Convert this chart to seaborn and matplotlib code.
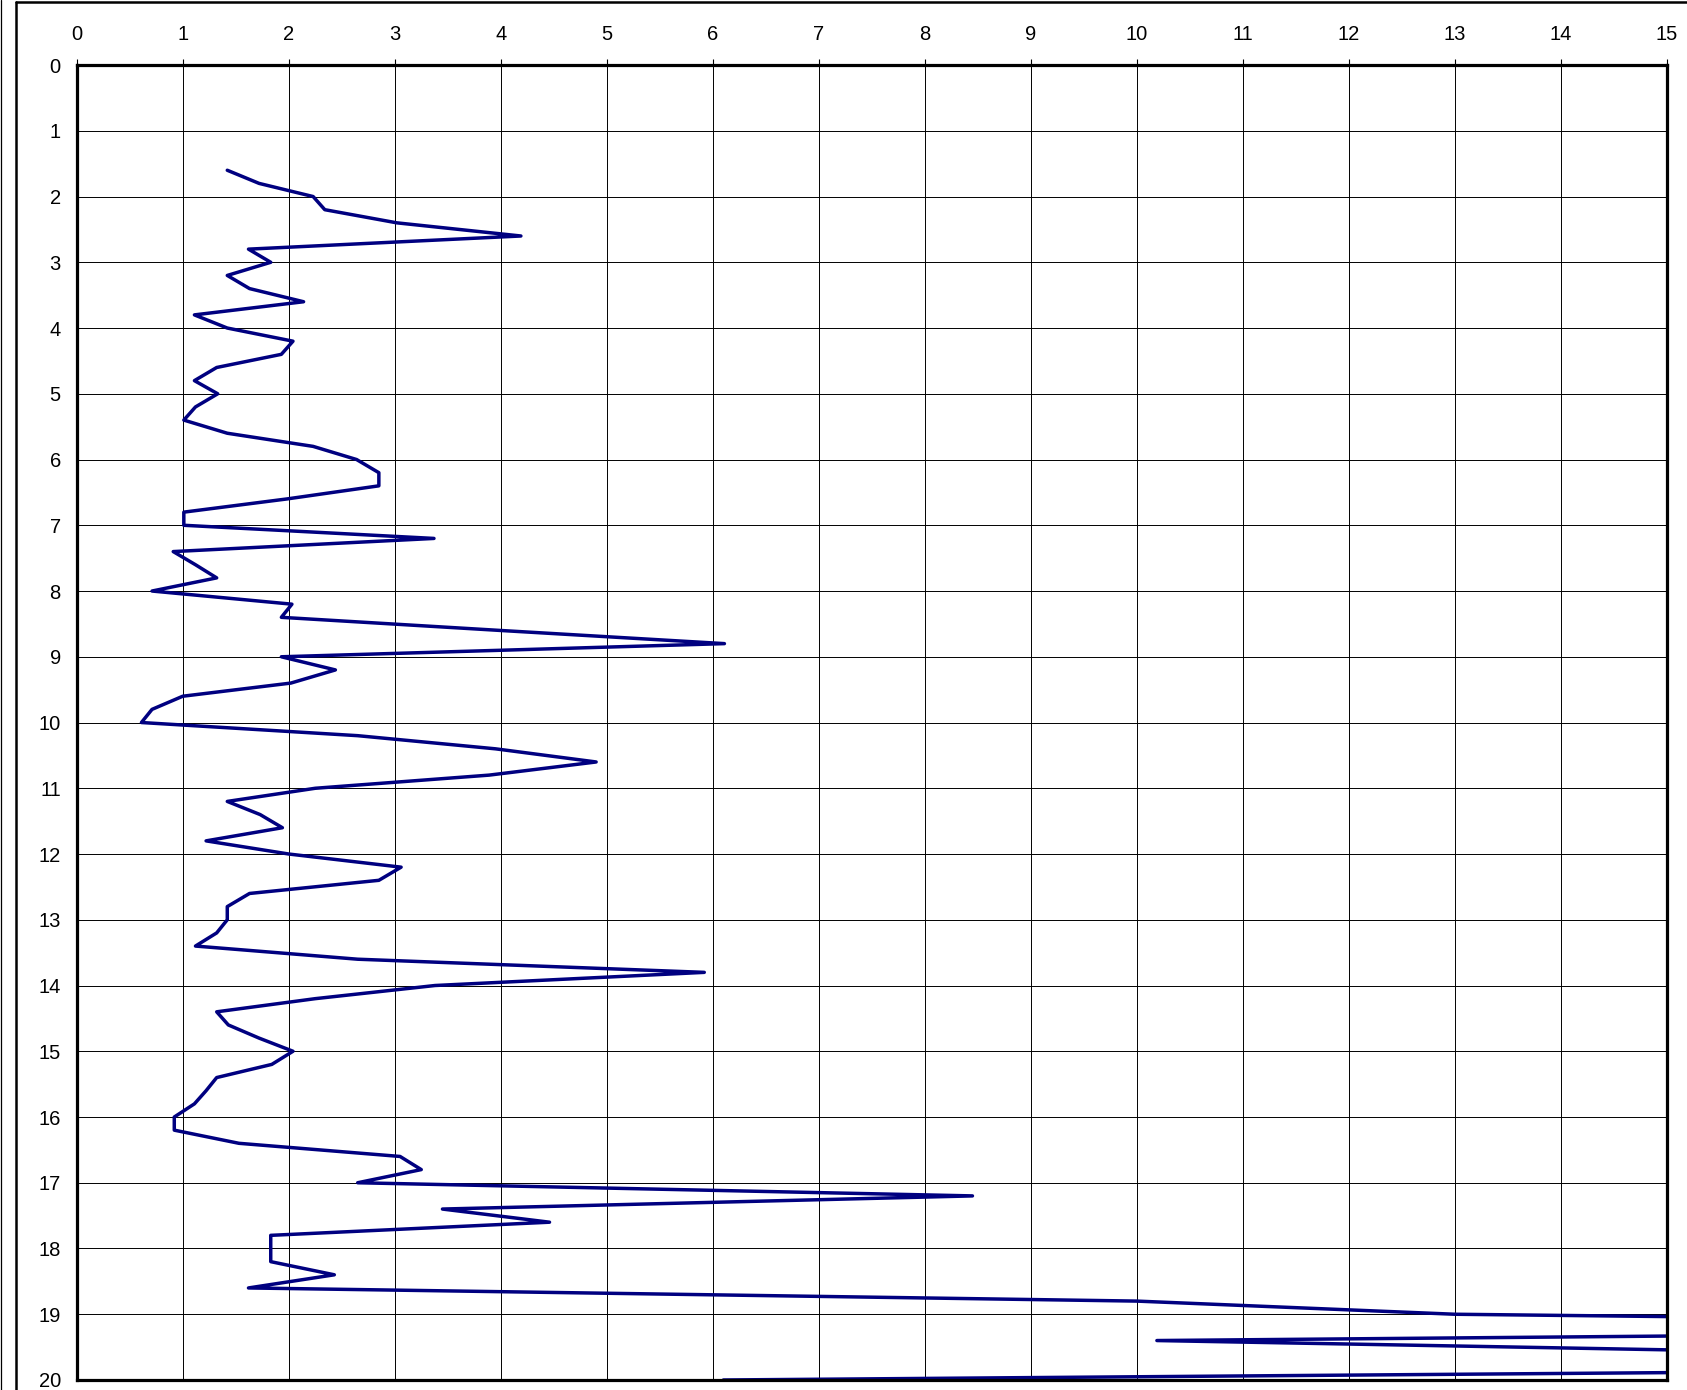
import matplotlib
matplotlib.use('Agg')
import matplotlib.pyplot as plt
from matplotlib.lines import Line2D
import seaborn as sns
import pandas as pd

depth = [1.6, 1.8, 2.0, 2.2, 2.4, 2.6, 2.8, 3.0, 3.2, 3.4, 3.6, 3.8,
         4.0, 4.2, 4.4, 4.6, 4.8, 5.0, 5.2, 5.4, 5.6, 5.8, 6.0, 6.2,
         6.4, 6.6, 6.8, 7.0, 7.2, 7.4, 7.6, 7.8, 8.0, 8.2, 8.4, 8.6,
         8.8, 9.0, 9.2, 9.4, 9.6, 9.8, 10.0, 10.2, 10.4, 10.6, 10.8, 11.0,
         11.2, 11.4, 11.6, 11.8, 12.0, 12.2, 12.4, 12.6, 12.8, 13.0, 13.2, 13.4,
         13.6, 13.8, 14.0, 14.2, 14.4, 14.6, 14.8, 15.0, 15.2, 15.4, 15.6, 15.8,
         16.0, 16.2, 16.4, 16.6, 16.8, 17.0, 17.2, 17.4, 17.6, 17.8, 18.0, 18.2,
         18.4, 18.6, 18.8, 19.0, 19.2, 19.4, 19.6, 19.8, 20.0]
value = [1.42, 1.72, 2.23, 2.34, 3.02, 4.19, 1.62, 1.83, 1.42, 1.63, 2.14, 1.11,
         1.42, 2.04, 1.93, 1.32, 1.11, 1.33, 1.12, 1.01, 1.42, 2.23, 2.64, 2.85,
         2.85, 1.98, 1.01, 1.01, 3.37, 0.91, 1.12, 1.32, 0.71, 2.03, 1.93, 4.0,
         6.11, 1.93, 2.44, 2.02, 1.0, 0.71, 0.61, 2.65, 3.95, 4.9, 3.89, 2.25,
         1.42, 1.73, 1.94, 1.22, 2.0, 3.06, 2.85, 1.63, 1.42, 1.42, 1.32, 1.12,
         2.65, 5.92, 3.38, 2.25, 1.32, 1.43, 1.72, 2.04, 1.84, 1.32, 1.22, 1.11,
         0.92, 0.92, 1.53, 3.05, 3.25, 2.65, 8.45, 3.45, 4.46, 1.83, 1.83, 1.83,
         2.43, 1.62, 10.0, 13.0, 24.3, 10.19, 17.0, 22.0, 6.1]

x_ticks = list(range(0, 16))
y_ticks = list(range(0, 21))

df = pd.DataFrame({'depth': depth, 'value': value})

sns.set_style('white')
plt.rcParams['font.family'] = ['Liberation Sans', 'DejaVu Sans']

fig = plt.figure(figsize=(16.87, 13.90), dpi=100)
ax = fig.add_axes([0.0455, 0.0072, 0.9425, 0.946])

sns.lineplot(data=df, x='value', y='depth', sort=False, estimator=None,
             orient='y', color='#000080', linewidth=2.5, ax=ax)

ax.set_xlim(0, 15)
ax.set_ylim(20, 0)
ax.set_xticks(x_ticks)
ax.set_yticks(y_ticks)
ax.xaxis.tick_top()
ax.set_xlabel('')
ax.set_ylabel('')
ax.grid(True, color='black', linewidth=0.7)
ax.tick_params(axis='x', direction='out', length=4.5, width=0.8, pad=11,
               labelsize=14.5, colors='black')
ax.tick_params(axis='y', direction='out', length=4.5, width=0.8, pad=7,
               labelsize=14.5, colors='black')
for s in ax.spines.values():
    s.set_visible(True)
    s.set_color('black')
    s.set_linewidth(2.3)

# outer frame of the chart area (cut off at right and bottom)
fig.add_artist(Line2D([0.0003, 0.0003], [0, 1], transform=fig.transFigure,
                      color='black', linewidth=0.9))
fig.add_artist(Line2D([0.0095, 0.0095], [0, 0.9985], transform=fig.transFigure,
                      color='black', linewidth=1.8))
fig.add_artist(Line2D([0.0095, 1], [0.9985, 0.9985], transform=fig.transFigure,
                      color='black', linewidth=1.8))

fig.savefig('out.png', dpi=100)
